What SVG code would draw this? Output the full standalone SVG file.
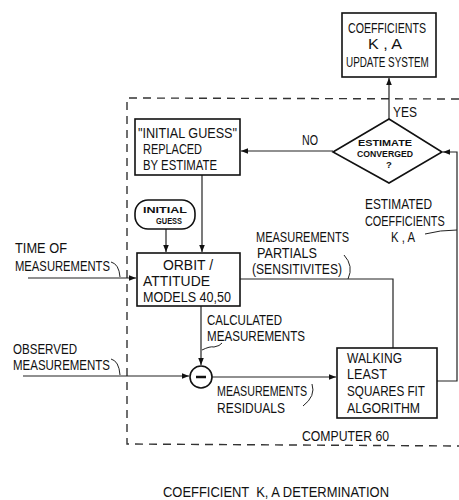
<svg xmlns="http://www.w3.org/2000/svg" width="459" height="500" viewBox="0 0 459 500">
<defs>
<marker id="ah" viewBox="0 0 10 10" refX="10" refY="5" markerWidth="7" markerHeight="7" markerUnits="userSpaceOnUse" orient="auto">
<path d="M0,1 L10,5 L0,9 z" fill="#111"/>
</marker>
<style>
.box{fill:#fff;stroke:#111;stroke-width:1.6}
.ln{fill:none;stroke:#222;stroke-width:1.2}
.ld{fill:none;stroke:#222;stroke-width:1}
.dash{fill:none;stroke:#333;stroke-width:1.4;stroke-dasharray:8 6}
text{font-family:"Liberation Sans",Arial,sans-serif;fill:#111}
.t{font-size:15px}
.l{font-size:14.5px}
.s{font-size:9.5px;font-weight:bold}
</style>
</defs>
<rect width="459" height="500" fill="#fff"/>
<path class="dash" d="M459,99 L127,98 L127,444 L459,446"/>
<g id="connectors">
<path class="ln" d="M389,119 L389,78" marker-end="url(#ah)"/>
<path class="ln" d="M333,151 L241,151" marker-end="url(#ah)"/>
<path class="ln" d="M202,175 L202,252" marker-end="url(#ah)"/>
<path class="ln" d="M166,229 L166,252" marker-end="url(#ah)"/>
<path class="ln" d="M28,278 L136,278" marker-end="url(#ah)"/>
<path class="ln" d="M240,279 L393,279 L393,348"/>
<path class="ln" d="M201,306 L201,365" marker-end="url(#ah)"/>
<path class="ln" d="M23,376 L189,376" marker-end="url(#ah)"/>
<path class="ln" d="M212,377 L336,377" marker-end="url(#ah)"/>
<path class="ln" d="M437,381 L457,381 L457,152 L443,152" marker-end="url(#ah)"/>
<path class="ld" d="M111,262 Q119,264 120,277"/>
<path class="ld" d="M111,359 Q119,361 120,375"/>
<path class="ld" d="M202,350 Q210,346 214,347 Q220,346 222,343"/>
<path class="ld" d="M312,384 Q316,396 303,406"/>
<path class="ld" d="M344,255 Q354,266 348,279"/>
<path class="ld" d="M425,234 Q440,230 457,230"/>
</g>
<g id="update">
<rect class="box" x="342" y="13" width="94" height="64"/>
<text class="t" x="348" y="33" textLength="78" lengthAdjust="spacingAndGlyphs">COEFFICIENTS</text>
<text class="t" x="368" y="49" textLength="34" lengthAdjust="spacingAndGlyphs">K , A</text>
<text class="t" transform="translate(346,67) scale(0.66,1)" x="0" y="0">UPDATE SYSTEM</text>
</g>
<g id="converged">
<path class="box" d="M333,152 L389,119 L442,152 L389,183 z"/>
<text class="s" x="358" y="146" textLength="54" lengthAdjust="spacingAndGlyphs">ESTIMATE</text>
<text class="s" x="357" y="157" textLength="56" lengthAdjust="spacingAndGlyphs">CONVERGED</text>
<text class="s" x="389" y="168" text-anchor="middle">?</text>
</g>
<g id="labels-yes-no">
<text class="t" x="393" y="117" textLength="24" lengthAdjust="spacingAndGlyphs">YES</text>
<text class="t" x="302" y="145" textLength="16" lengthAdjust="spacingAndGlyphs">NO</text>
</g>
<g id="replaced">
<rect class="box" x="135" y="119" width="105" height="56"/>
<text class="t" x="138" y="138" textLength="99" lengthAdjust="spacingAndGlyphs">"INITIAL GUESS"</text>
<text class="t" x="143" y="154" textLength="59" lengthAdjust="spacingAndGlyphs">REPLACED</text>
<text class="t" x="143" y="170" textLength="74" lengthAdjust="spacingAndGlyphs">BY ESTIMATE</text>
</g>
<g id="initial-guess">
<rect class="box" x="135" y="200" width="60" height="29" rx="13"/>
<text class="s" x="143" y="213" textLength="44" lengthAdjust="spacingAndGlyphs">INITIAL</text>
<text class="s" x="156" y="224" textLength="26" lengthAdjust="spacingAndGlyphs">GUESS</text>
</g>
<g id="orbit">
<rect class="box" x="137" y="253" width="103" height="53"/>
<text class="t" x="163" y="270" textLength="50" lengthAdjust="spacingAndGlyphs">ORBIT /</text>
<text class="t" x="143" y="286" textLength="67" lengthAdjust="spacingAndGlyphs">ATTITUDE</text>
<text class="t" x="143" y="302" textLength="88" lengthAdjust="spacingAndGlyphs">MODELS 40,50</text>
</g>
<g id="minus">
<circle class="box" cx="201" cy="377" r="11"/>
<path d="M196,377 L206,377" stroke="#111" stroke-width="2.5"/>
</g>
<g id="walking">
<rect class="box" x="337" y="348" width="100" height="70"/>
<text class="t" x="347" y="363" textLength="55" lengthAdjust="spacingAndGlyphs">WALKING</text>
<text class="t" x="347" y="379" textLength="40" lengthAdjust="spacingAndGlyphs">LEAST</text>
<text class="t" x="347" y="396" textLength="78" lengthAdjust="spacingAndGlyphs">SQUARES FIT</text>
<text class="t" x="347" y="413" textLength="73" lengthAdjust="spacingAndGlyphs">ALGORITHM</text>
</g>
<g id="texts">
<text class="l" x="15" y="253" textLength="52" lengthAdjust="spacingAndGlyphs">TIME OF</text>
<text class="l" x="15" y="271" textLength="95" lengthAdjust="spacingAndGlyphs">MEASUREMENTS</text>
<text class="l" x="13" y="354" textLength="64" lengthAdjust="spacingAndGlyphs">OBSERVED</text>
<text class="l" x="13" y="370" textLength="97" lengthAdjust="spacingAndGlyphs">MEASUREMENTS</text>
<text class="l" x="207" y="325" textLength="75" lengthAdjust="spacingAndGlyphs">CALCULATED</text>
<text class="l" x="207" y="341" textLength="98" lengthAdjust="spacingAndGlyphs">MEASUREMENTS</text>
<text class="l" x="217" y="396" textLength="90" lengthAdjust="spacingAndGlyphs">MEASUREMENTS</text>
<text class="l" x="217" y="413" textLength="68" lengthAdjust="spacingAndGlyphs">RESIDUALS</text>
<text class="l" x="256" y="242" textLength="93" lengthAdjust="spacingAndGlyphs">MEASUREMENTS</text>
<text class="l" x="257" y="258" textLength="60" lengthAdjust="spacingAndGlyphs">PARTIALS</text>
<text class="l" x="252" y="274" textLength="90" lengthAdjust="spacingAndGlyphs">(SENSITIVITES)</text>
<text class="l" x="365" y="209" textLength="67" lengthAdjust="spacingAndGlyphs">ESTIMATED</text>
<text class="l" transform="translate(365,226) scale(0.75,1)" x="0" y="0">COEFFICIENTS</text>
<text class="l" x="391" y="242" textLength="24" lengthAdjust="spacingAndGlyphs">K , A</text>
<text class="l" x="302" y="441" textLength="87" lengthAdjust="spacingAndGlyphs">COMPUTER 60</text>
<text class="l" x="163" y="497" textLength="226" lengthAdjust="spacingAndGlyphs" xml:space="preserve">COEFFICIENT  K, A DETERMINATION</text>
</g>
</svg>
